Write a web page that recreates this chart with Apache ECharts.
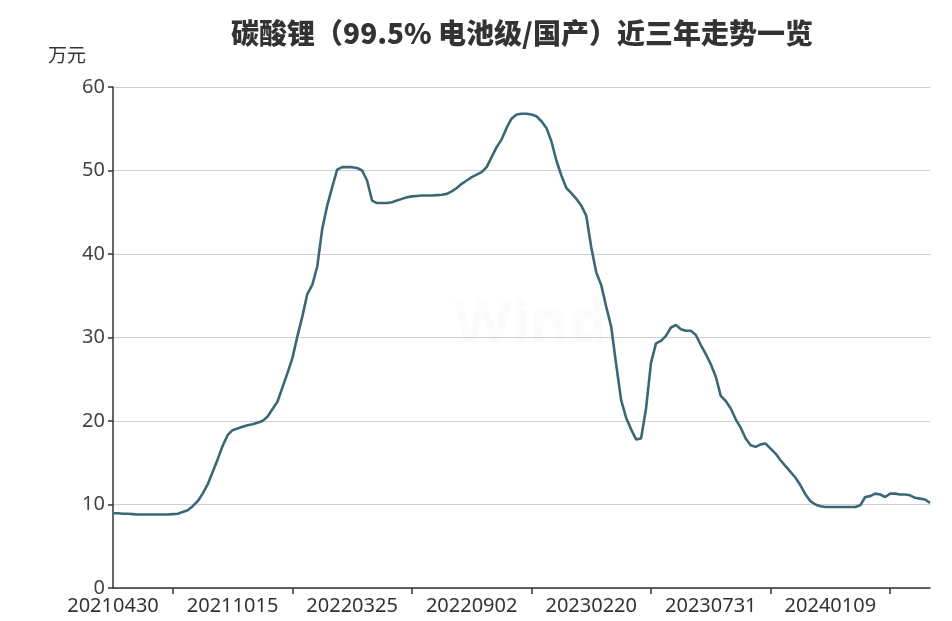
<!DOCTYPE html>
<html>
<head>
<meta charset="utf-8">
<script src="https://cdn.jsdelivr.net/npm/echarts@6/dist/echarts.min.js"></script>
<style>html,body{margin:0;padding:0;background:#fff;}#c{width:952px;height:621px;}</style>
</head>
<body>
<div id="c"></div>
<script>
// Tick label dates shown on the x axis (one every 24 data points)
const tickLabels = ['20210430','20211015','20220325','20220902','20230220','20230731','20240109'];
const stepPerLabel = 24;
// 碳酸锂 price, 万元/吨
const priceValues = [
  8.95, 8.95, 8.9, 8.9, 8.85, 8.8, 8.8, 8.8, 8.8, 8.8, 8.8, 8.8, 8.85, 8.9, 9.1, 9.3, 9.8, 10.4, 11.3, 12.4,
  13.9, 15.4, 17.0, 18.3, 18.9, 19.1, 19.3, 19.5, 19.6, 19.8, 20.0, 20.5, 21.4, 22.3, 24.0, 25.7, 27.5, 30.1, 32.5, 35.2,
  36.3, 38.5, 43.0, 45.8, 48.0, 50.1, 50.4, 50.4, 50.4, 50.3, 50.0, 48.8, 46.4, 46.1, 46.1, 46.1, 46.2, 46.4, 46.6, 46.8,
  46.9, 46.95, 47.0, 47.0, 47.0, 47.05, 47.1, 47.2, 47.5, 47.9, 48.4, 48.8, 49.2, 49.5, 49.8, 50.4, 51.6, 52.8, 53.7, 55.1,
  56.2, 56.7, 56.8, 56.8, 56.7, 56.5, 55.9, 55.1, 53.5, 51.2, 49.4, 47.9, 47.3, 46.6, 45.8, 44.6, 40.8, 37.8, 36.3, 33.7,
  31.3, 26.8, 22.5, 20.4, 19.0, 17.8, 17.9, 21.5, 27.0, 29.3, 29.6, 30.2, 31.2, 31.5, 31.0, 30.8, 30.8, 30.3, 29.1, 28.0,
  26.8, 25.3, 23.0, 22.4, 21.5, 20.2, 19.2, 17.9, 17.1, 16.9, 17.2, 17.3, 16.7, 16.1, 15.3, 14.6, 13.9, 13.2, 12.3, 11.2,
  10.4, 10.0, 9.8, 9.7, 9.7, 9.7, 9.7, 9.7, 9.7, 9.7, 9.9, 10.9, 11.0, 11.3, 11.2, 10.9, 11.3, 11.3, 11.2, 11.2,
  11.1, 10.8, 10.7, 10.6, 10.2
];
const yTicks = [0, 10, 20, 30, 40, 50, 60];

// Build date categories between the labelled dates
function parseD(s){return Date.UTC(+s.slice(0,4), +s.slice(4,6)-1, +s.slice(6,8));}
function fmtD(t){const d=new Date(t);const p=n=>String(n).padStart(2,'0');return d.getUTCFullYear()+p(d.getUTCMonth()+1)+p(d.getUTCDate());}
const categories = [];
const DAY = 86400000;
for (let i = 0; i < priceValues.length; i++) {
  const seg = Math.min(Math.floor(i / stepPerLabel), tickLabels.length - 2);
  const a = parseD(tickLabels[seg]), b = parseD(tickLabels[seg + 1]);
  const off = i - seg * stepPerLabel;
  if (off === 0) { categories.push(tickLabels[seg]); continue; }
  if (i % stepPerLabel === 0 && tickLabels[i / stepPerLabel]) { categories.push(tickLabels[i / stepPerLabel]); continue; }
  const t = a + Math.round((b - a) / DAY * off / stepPerLabel) * DAY;
  categories.push(fmtD(t));
}

const chart = echarts.init(document.getElementById('c'));
chart.setOption({
  backgroundColor: '#fff',
  animation: false,
  grid: { left: 113, right: 22, top: 87, bottom: 33 },
  graphic: [
    { type: 'text', x: 522, y: 33, style: { text: '碳酸锂（99.5% 电池级/国产）近三年走势一览', fill: '#333', font: '900 28px "Noto Sans CJK SC"', textAlign: 'center', textVerticalAlign: 'middle' } },
    { type: 'text', x: 48, y: 55, style: { text: '万元', fill: '#333', font: '19px "Noto Sans CJK SC"', textAlign: 'left', textVerticalAlign: 'middle' } },
    { type: 'text', x: 530, y: 325, z: -1, style: { text: 'Wind', fill: 'rgba(0,0,0,0.015)', font: 'bold 60px "Noto Sans"', textAlign: 'center', textVerticalAlign: 'middle' } }
  ],
  xAxis: {
    type: 'category',
    data: categories,
    boundaryGap: false,
    axisLine: { lineStyle: { color: '#333', width: 1.5 } },
    axisTick: { length: 6, lineStyle: { color: '#333', width: 1.5 }, interval: (i) => i % stepPerLabel === stepPerLabel / 2 },
    axisLabel: { interval: (i) => i % stepPerLabel === 0, color: '#333', fontSize: 20, fontFamily: 'Noto Sans', margin: 8 },
    splitLine: { show: false }
  },
  yAxis: {
    type: 'value',
    min: yTicks[0], max: yTicks[yTicks.length - 1], interval: 10,
    axisLine: { show: true, lineStyle: { color: '#333', width: 1.5 } },
    axisTick: { show: true, length: 5, lineStyle: { color: '#333', width: 1.5 } },
    axisLabel: { color: '#444', fontSize: 20, fontFamily: 'Noto Sans', margin: 8 },
    splitLine: { lineStyle: { color: '#cfcfcf', width: 1 } }
  },
  series: [{
    type: 'line',
    data: priceValues,
    showSymbol: false,
    smooth: false,
    lineStyle: { color: '#3a6877', width: 2.6 }
  }]
});
</script>
</body>
</html>
